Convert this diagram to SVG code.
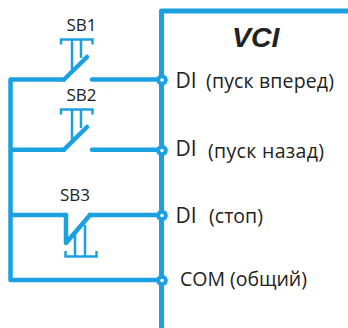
<svg xmlns="http://www.w3.org/2000/svg" width="348" height="328" viewBox="0 0 348 328">
<style>
.w{fill:none;stroke:#1ba1e2;stroke-width:4.5;stroke-linecap:round;stroke-linejoin:round}
.b{fill:none;stroke:#1ba1e2;stroke-width:2.5}
.d{fill:#fff;stroke:#1ba1e2;stroke-width:4}
text{font-family:"Open Sans","Noto Sans",sans-serif;fill:#222;font-size:17px}
.l{font-size:19.500px}
.i{font-size:21px}
.v{font-family:"Liberation Sans",Arial,sans-serif;font-weight:bold;font-style:italic;font-size:28.500px}
</style>
<g id="connectors">
<path class="w" style="stroke-linecap:butt;stroke-width:5" d="M348 11H161.500V328"/>
<path class="w" d="M161 280H10.500V79.500H64M92 79.500H161M10.500 149.700H64M92 149.700H161M10.500 215H66"/>
<path class="w" d="M90 215H161"/>
</g>
<g id="SB1">
<path class="w" d="M64 79.500L87 57"/>
<path class="b" d="M61 44.500V39.500H92.500V44.500M72 39.500V72M81 39.500V58"/>
<text x="81.500" y="30.500" text-anchor="middle">SB1</text>
</g>
<g id="SB2">
<path class="w" d="M64 149.700L87 127"/>
<path class="b" d="M61 114.500V109.500H92.500V114.500M72 109.500V142M81 109.500V128"/>
<text x="81.500" y="100.500" text-anchor="middle">SB2</text>
</g>
<g id="SB3">
<path class="w" d="M66 215V243L90 215"/>
<path class="b" d="M65.500 251V256.500H96.500V251M75 256.500V233M85 256.500V225"/>
<text x="75" y="200.500" text-anchor="middle">SB3</text>
</g>
<g id="VCI"><text class="v" x="232" y="47">VCI</text></g>
<g id="DI1"><circle class="d" cx="162" cy="80" r="3.800"/><text class="i" x="175.500" y="88">DI</text><text class="l" x="206" y="88" textLength="128">(пуск вперед)</text></g>
<g id="DI2"><circle class="d" cx="162" cy="150.500" r="3.800"/><text class="i" x="175.500" y="155.500">DI</text><text class="l" x="208" y="158" textLength="116">(пуск назад)</text></g>
<g id="DI3"><circle class="d" cx="162" cy="215.500" r="3.800"/><text class="i" x="175.500" y="223">DI</text><text class="l" x="209" y="223" textLength="54">(стоп)</text></g>
<g id="COM"><circle class="d" cx="162" cy="280.500" r="3.800"/><text class="l" x="180" y="285.500" textLength="127">COM (общий)</text></g>
</svg>
